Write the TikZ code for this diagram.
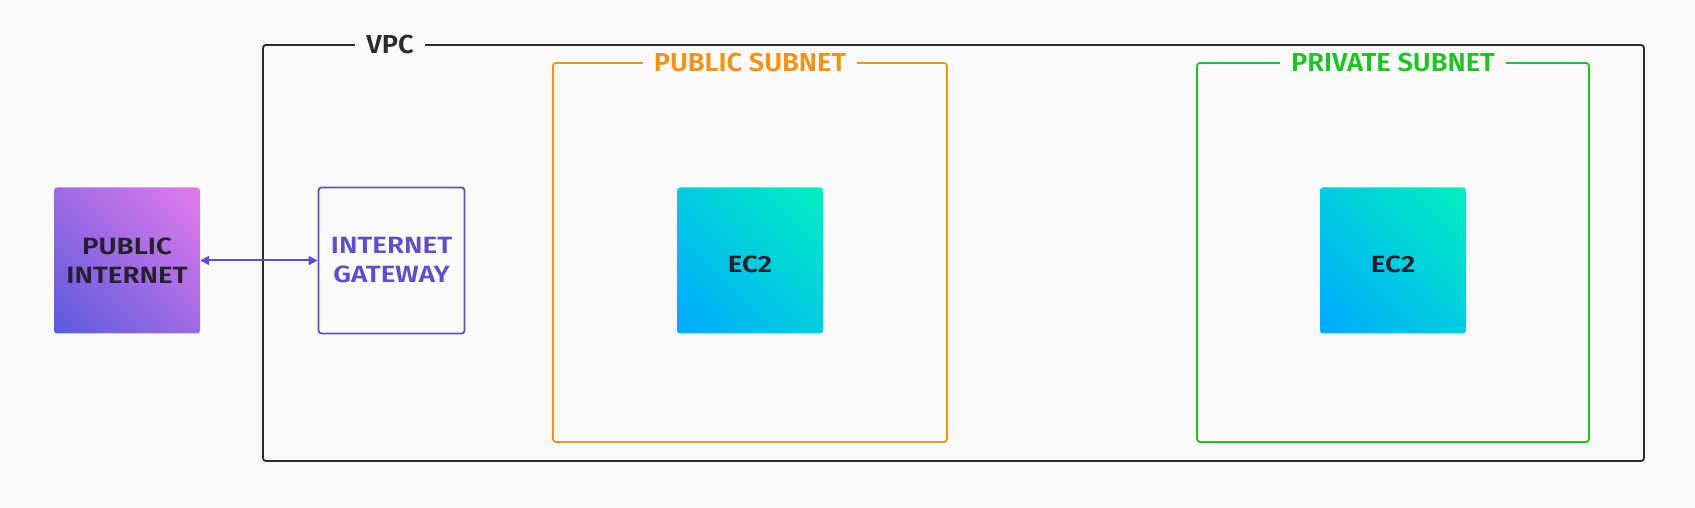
\documentclass[tikz,border=0pt]{standalone}
\usepackage{fontspec}
\setmainfont{Fira Sans}[UprightFont={* Medium},BoldFont={* SemiBold}]
\newfontfamily\boxfont{Fira Sans}[UprightFont={* SemiBold},FakeStretch=1.18]
\newfontfamily\lblfont{Fira Sans}[UprightFont={* SemiBold},FakeStretch=1.05]
\usetikzlibrary{arrows.meta,shadings}
\definecolor{bg}{HTML}{FAFAFA}
\definecolor{vpcc}{HTML}{2B2B2B}
\definecolor{orng}{HTML}{F39214}
\definecolor{grn}{HTML}{1EC424}
\definecolor{purp}{HTML}{5F4FC7}
\definecolor{piA}{HTML}{5A5ADE}
\definecolor{piB}{HTML}{E47BEB}
\definecolor{ecA}{HTML}{00A8FF}
\definecolor{ecB}{HTML}{00F0C0}
\definecolor{dtext}{HTML}{24202C}
\begin{document}
\begin{tikzpicture}[x=1pt,y=1pt,
  boxtxt/.style={font=\boxfont\fontsize{23.5}{29}\selectfont, align=center},
  sq/.style={minimum width=146pt, minimum height=146pt, inner sep=0pt, rounded corners=3pt, boxtxt},
  grad/.style={sq, text=dtext},
  ecbox/.style={grad, shade, lower left=ecA, upper right=ecB, upper left=ecA!50!ecB, lower right=ecA!50!ecB, text height=24.5pt, text depth=0pt},
  gwbox/.style={sq, draw=purp, line width=1.8pt, text=purp},
  frame/.style={line width=1.8pt, rounded corners=3pt},
  lbl/.style={fill=bg, inner xsep=11pt, inner ysep=2pt, font=\lblfont\fontsize{26}{30}\selectfont}
]
\useasboundingbox (0,0) rectangle (1695,508);
\fill[bg] (0,0) rectangle (1695,508);
% VPC
\draw[frame, draw=vpcc] (263,463) rectangle (1644,47);
\node[lbl, text=vpcc] (vpc) at (390,463) {VPC};
% subnets
\draw[frame, draw=orng] (553,445) rectangle (947,66);
\node[lbl, text=orng] (pub) at (750,445) {PUBLIC SUBNET};
\draw[frame, draw=grn] (1197,445) rectangle (1589,66);
\node[lbl, text=grn] (priv) at (1393,445) {PRIVATE SUBNET};
% nodes
\node[grad, shade, lower left=piA, upper right=piB, upper left=piA!50!piB, lower right=piA!50!piB] (pi) at (127,247.5) {PUBLIC\\INTERNET};
\node[gwbox] (gw) at (391.5,247.5) {INTERNET\\GATEWAY};
\node[ecbox] (ec1) at (750,247.5) {EC2};
\node[ecbox] (ec2) at (1393,247.5) {EC2};
% arrow
\draw[purp, line width=2pt, {Triangle[length=9pt,width=9pt]}-{Triangle[length=9pt,width=9pt]}] (pi.east) -- (gw.west);
\end{tikzpicture}
\end{document}
